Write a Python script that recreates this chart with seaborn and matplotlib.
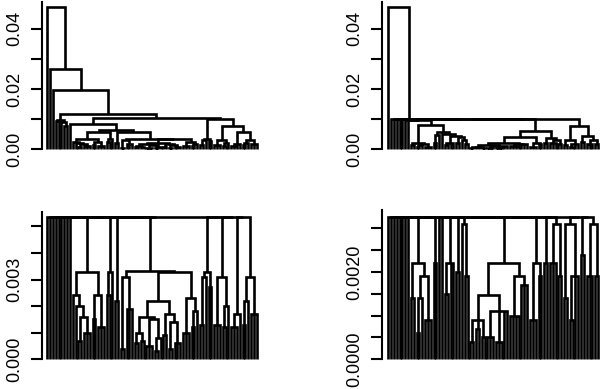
import numpy as np
import pandas as pd
import matplotlib
matplotlib.use("Agg")
import matplotlib.pyplot as plt
import seaborn as sns

# ---------------- data: dendrogram trees ----------------
# node = [merge height, child, child, ...]; an integer child n = n single leaves
# ---- left tree ----
A_BLOCK = [0.0097, [0.0093, 1, 1], [0.0090, 1, [0.0078, 1, 1]]]
B1 = [0.0024, 1, [0.0020, 1, [0.0016, [0.0007, 2], [0.0010, 3]]]]
B2 = [0.0024, [0.0015, 2], [0.0012, 3]]
B = [0.0033, B1, B2]
C = [0.0033, [0.0024, 2], 1]
D = [0.0022, 2]
E_L = [0.0031, [0.0004, 2], [0.0019, 3]]
EM_L = [0.0016, [0.0010, [0.0006, 2], [0.0007, 2]], [0.0015, [0.0005, 3], [0.0008, [0.0003, 2], 1]]]
EM_R = [0.0017, [0.0009, 2], [0.0014, [0.0004, 2], [0.0006, 3]]]
E_M = [0.0022, EM_L, EM_R]
E_R = [0.0023, [0.0010, 3], [0.0018, [0.0012, 2], 1]]
E = [0.00331, E_L, [0.0033, E_M, E_R]]
F = [0.0033, [0.0031, [0.0013, 2], 1], [0.0027, 2]]
G = [0.0031, [0.0013, 3], [0.0020, [0.0012, 2], 1]]
H = [0.0017, [0.0012, 3], 1]
I = [0.0031, [0.0022, [0.0013, 2], 1], [0.0017, 3]]
M = [0.0064, [0.0058, B, C], [0.0056, D, E]]
L = [0.0083, 1, M]
R = [0.0102, F, [0.0077, G, [0.0058, H, I]]]
LEFT_TREE = [0.0474, 1, [0.0266, 1, [0.0197, 1, [0.0116, A_BLOCK, [0.0105, L, R]]]]]

# ---- right tree ----
S2 = [0.0022, [0.0014, 2], [0.0019, [0.0014, [0.0006, 2], 1], [0.0009, 3]]]
U1 = [0.0022, 2]
U4 = [0.0022, [0.0015, 2], 2]
U5 = [0.0020, 2]
U6 = [0.0031, 1, [0.0019, 2]]
W2 = [0.0056, [0.0048, U1, 1], [0.0052, 1, [0.0045, U4, [0.0040, U5, U6]]]]
W = [0.0081, S2, W2]
S4 = [0.0022,
      [0.00147, [0.0009, [0.0004, 2], [0.0007, 2], [0.0005, 2]],
       [0.0011, [0.0005, 3], [0.0004, 3], 2]],
      [0.0019, [0.0010, 4], [0.0017, 3]]]
S5 = [0.0022, [0.0009, 3], [0.0019, 2]]
S6 = [0.0036, [0.0022, 2], [0.0031, [0.0022, 3], [0.0019, 2]]]
S7 = [0.0031, [0.0014, 2], [0.0019, [0.0009, 2], 2]]
S8 = [0.0045, [0.0024, 2], [0.0031, [0.0019, 3], [0.0019, 2]]]
XL = [0.0099, [0.0098, 1, 1], [0.0098, 1, [0.0096, 1, W]]]
XR = [0.0060, [0.0042, S4, S5], S6]
Y = [0.0077, S7, S8]
RIGHT_TREE = [0.0472, 1, [0.0101, 1, [0.01008, 1, [0.01006, 1, [0.01004, [0.0100, XL, XR], Y]]]]]

# ---------------- axis ticks ----------------
TOP_TICKS = [0.00, 0.01, 0.02, 0.03, 0.04]
TOP_LABELS = ["0.00", "", "0.02", "", "0.04"]
BL_TICKS = [0.000, 0.001, 0.002, 0.003, 0.004, 0.005]
BL_LABELS = ["0.000", "", "", "0.003", "", ""]
BR_TICKS = [0.0, 0.0005, 0.0010, 0.0015, 0.0020, 0.0025, 0.0030]
BR_LABELS = ["0.0000", "", "", "", "0.0020", "", ""]


def dendro_segments(tree, clamp):
    """Return a DataFrame of polyline points for the dendrogram."""
    rows = []
    counter = [0]
    seg = [0]

    def add(points):
        for (x, y) in points:
            rows.append((x, y, seg[0]))
        seg[0] += 1

    def walk(node):
        h = min(node[0], clamp)
        pos = []
        for c in node[1:]:
            if isinstance(c, int):
                for _ in range(c):
                    pos.append((float(counter[0]), 0.0))
                    counter[0] += 1
            else:
                pos.append(walk(c))
        x0, h0 = pos[0]
        xn, hn = pos[-1]
        add([(x0, h0), (x0, h), (xn, h), (xn, hn)])
        for (xm, hm) in pos[1:-1]:
            add([(xm, hm), (xm, h)])
        return ((x0 + xn) / 2.0, h)

    walk(tree)
    return pd.DataFrame(rows, columns=["x", "y", "seg"])


sns.set_theme(style="ticks")
plt.rcParams["font.family"] = ["Liberation Sans", "DejaVu Sans"]

W_PX, H_PX = 600, 389
fig = plt.figure(figsize=(6.0, 3.89), dpi=100)

panels = [
    # tree, clamp, left px, right px, top px, zero px, ymax, xlim, ticks, labels
    (LEFT_TREE, np.inf, 41.7, 262.3, 1.8, 149.3, 0.049, (-1.98, 75.97), TOP_TICKS, TOP_LABELS),
    (RIGHT_TREE, np.inf, 381.7, 600.0, 1.8, 149.3, 0.049, (-2.33, 74.7), TOP_TICKS, TOP_LABELS),
    (LEFT_TREE, 0.00536, 41.7, 262.3, 211.7, 359.3, 0.00555, (-1.98, 75.97), BL_TICKS, BL_LABELS),
    (RIGHT_TREE, 0.00327, 381.7, 600.0, 210.0, 359.3, 0.003424, (-2.33, 74.7), BR_TICKS, BR_LABELS),
]

for tree, clamp, lpx, rpx, tpx, zpx, ymax, xlim, ticks, labels in panels:
    ax = fig.add_axes([lpx / W_PX, 1 - zpx / H_PX, (rpx - lpx) / W_PX, (zpx - tpx) / H_PX])
    ax.patch.set_alpha(0)
    df = dendro_segments(tree, clamp)
    sns.lineplot(data=df, x="x", y="y", units="seg", estimator=None, sort=False,
                 color="black", linewidth=1.9, ax=ax)
    for ln in ax.lines:
        ln.set_clip_on(False)
        ln.set_solid_capstyle("butt")
        ln.set_solid_joinstyle("miter")
    ax.set_xlim(*xlim)
    ax.set_ylim(0, ymax)
    ax.set_xticks([])
    ax.set_xlabel("")
    ax.set_ylabel("")
    ax.set_yticks(ticks)
    ax.set_yticklabels(labels)
    sns.despine(ax=ax, top=True, right=True, bottom=True)
    ax.spines["left"].set_linewidth(1.5)
    ax.spines["left"].set_color("black")
    ax.tick_params(axis="y", direction="out", length=8, width=1.5, color="black",
                   labelsize=13, pad=5, labelcolor="black")
    for t in ax.get_yticklabels():
        t.set_rotation(90)
        t.set_va("center")
        t.set_ha("right")

fig.savefig("out.png", dpi=100)
